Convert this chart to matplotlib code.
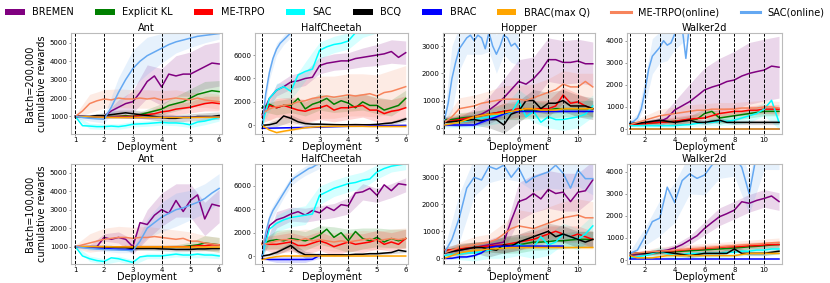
import numpy as np
import matplotlib
matplotlib.use("Agg")
import matplotlib.pyplot as plt
from matplotlib.patches import Patch
from matplotlib.lines import Line2D

methods = ["BREMEN", "Explicit KL", "ME-TRPO", "SAC", "BCQ", "BRAC",
           "BRAC(max Q)", "ME-TRPO(online)", "SAC(online)"]
colors = ["#800080", "#008000", "#ff0000", "#00ffff", "#000000", "#0000ff",
          "#ffa500", "#f7845c", "#64a8f2"]
envs = ["Ant", "HalfCheetah", "Hopper", "Walker2d"]
row_labels = ["Batch=200,000\ncumulative rewards", "Batch=100,000\ncumulative rewards"]

# ---------------- Ant, batch 200k (x = 1..6) ----------------
ant2_bremen = [1000, 1000, 990, 1010, 1000, 1300, 1500, 1700, 1800, 2300, 2900, 3200, 2600, 3300, 3200, 3300, 3300, 3500, 3700, 3900, 3850]
ant2_bremen_sd = [50, 50, 100, 400, 600, 900, 1000, 1100, 1200, 1200, 1200]
ant2_kl = [1000, 990, 980, 1000, 980, 1000, 1000, 1050, 1000, 1100, 1200, 1300, 1400, 1600, 1700, 1800, 2000, 2200, 2300, 2400, 2350]
ant2_kl_sd = [30, 30, 50, 100, 100, 200, 300, 400, 500, 600, 600]
ant2_metrpo = [1000, 990, 980, 1000, 970, 980, 1000, 1000, 1000, 1050, 1100, 1150, 1250, 1300, 1400, 1450, 1500, 1600, 1700, 1750, 1700]
ant2_metrpo_sd = [30, 30, 50, 100, 100, 200, 300, 300, 300, 400, 400]
ant2_sac = [1000, 500, 480, 450, 450, 480, 450, 500, 580, 600, 620, 650, 680, 650, 650, 620, 550, 700, 750, 850, 950]
ant2_sac_sd = [50, 150, 150, 150, 150, 150, 150, 150, 150, 200, 200]
ant2_bcq = [1000, 1000, 1000, 1050, 1050, 1100, 1150, 1200, 1150, 1100, 1050, 1000, 950, 900, 900, 950, 950, 1000, 1000, 1000, 1050]
ant2_bcq_sd = [50, 100, 150, 200, 200, 200, 200, 200, 200, 200, 200]
ant2_brac = [1000, 980, 960, 960, 950, 950, 950, 960, 960, 970, 980]
ant2_brac_sd = [20, 20, 20, 20, 20, 20]
ant2_bracq = [1000, 980, 960, 950, 950, 950, 950, 950, 950, 960, 970]
ant2_bracq_sd = [30, 30, 30, 30, 30, 30]
ant2_metrpo_on = [1000, 1300, 1700, 1850, 1950, 1900, 2000, 1950, 1950, 2000, 1950, 2000, 1900, 1950, 2000, 1950, 1900, 2000, 1900, 1850, 1800]
ant2_metrpo_on_sd = [100, 500, 500, 500, 500, 500, 500, 450, 400, 400, 400]
ant2_sac_on = [1000, 950, 900, 870, 850, 1500, 2300, 3000, 3600, 4000, 4300, 4500, 4700, 4900, 5050, 5150, 5250, 5350, 5400, 5450, 5500]
ant2_sac_on_sd = [100, 150, 200, 800, 1000, 1000, 800, 600, 500, 400, 300]

# ---------------- HalfCheetah, batch 200k ----------------
hc2_bremen = [900, 2300, 3000, 3300, 3700, 3800, 4000, 4100, 5100, 5300, 5400, 5500, 5500, 5700, 5800, 5900, 6000, 6100, 6300, 5800, 6200]
hc2_bremen_sd = [200, 500, 600, 600, 700, 700, 700, 800, 900, 1000, 1000]
hc2_kl = [1500, 1800, 1500, 1700, 1700, 2300, 1400, 1800, 2000, 2300, 1800, 2100, 1900, 1500, 2000, 1700, 1700, 1300, 1500, 1700, 2300]
hc2_kl_sd = [300, 600, 600, 600, 700, 700, 700, 700, 700, 700, 700]
hc2_metrpo = [700, 1700, 1500, 1700, 1500, 1300, 1200, 1400, 1500, 1700, 1300, 1500, 1500, 1600, 1700, 1300, 1300, 1000, 1200, 1300, 1500]
hc2_metrpo_sd = [500, 800, 900, 1000, 1000, 1000, 1000, 1000, 1000, 1000, 1000]
hc2_sac = [0, 2300, 3000, 3300, 2900, 4300, 4600, 4800, 6400, 6700, 6900, 7000, 7200, 7900, 8300, 8500, 8700, 8800, 8900, 9000, 9100]
hc2_sac_sd = [50, 600, 700, 800, 700, 700, 700, 800, 800, 800, 800]
hc2_bcq = [0, 50, 200, 800, 600, 300, 150, 100, 100, 80, 60, 50, 50, 60, 50, 50, 80, 150, 200, 350, 550]
hc2_bcq_sd = [50, 300, 300, 200, 100, 100, 100, 100, 100, 150, 200]
hc2_brac = [-250, -230, -200, -180, -150, -110, -80, -60, -40, -20, 0]
hc2_brac_sd = [50, 50, 50, 50, 50, 50]
hc2_bracq = [0, -400, -620, -500, -400, -300, -200, -150, -110, -100, -80, -80, -80, -80, -80, -100, -100, -100, -100, -100, -100]
hc2_bracq_sd = [30, 80, 80, 60, 50, 50, 50, 50, 50, 50, 50]
hc2_metrpo_on = [1000, 1400, 1600, 1700, 1800, 2000, 2100, 2300, 2400, 2500, 2400, 2500, 2600, 2500, 2600, 2700, 2500, 2800, 2900, 3100, 3300]
hc2_metrpo_on_sd = [300, 1500, 1800, 1800, 1800, 1800, 1800, 1800, 1800, 1800, 1800]
hc2_sac_on = [0, 2700, 4500, 5700, 6500, 7000, 7300, 7600, 7900]
hc2_sac_on_sd = [100, 600, 500, 400, 400]

# ---------------- Hopper, batch 200k (x = 1..11) ----------------
hop2_bremen = [300, 300, 300, 350, 400, 500, 650, 850, 1100, 1400, 1700, 1600, 1800, 2100, 2500, 2500, 2400, 2400, 2450, 2350, 2350]
hop2_bremen_sd = [100, 100, 300, 500, 700, 800, 800, 800, 800, 800, 800]
hop2_kl = [300, 300, 350, 380, 400, 450, 500, 550, 600, 600, 600, 650, 650, 650, 650, 700, 700, 700, 700, 700, 700]
hop2_kl_sd = [100, 200, 200, 200, 300, 300, 300, 300, 300, 300, 300]
hop2_metrpo = [200, 250, 300, 350, 400, 450, 500, 550, 600, 650, 700, 700, 700, 700, 700, 800, 1200, 900, 950, 800, 700]
hop2_metrpo_sd = [100, 200, 200, 200, 300, 300, 300, 300, 300, 300, 300]
hop2_sac = [100, 150, 200, 250, 300, 350, 400, 450, 500, 550, 1000, 400, 600, 200, 400, 300, 300, 350, 400, 500, 800]
hop2_sac_sd = [100, 200, 300, 300, 300, 400, 400, 400, 400, 400, 400]
hop2_bcq = [200, 220, 250, 280, 300, 250, 300, 300, 100, 500, 600, 1000, 1000, 700, 900, 900, 1000, 800, 800, 800, 700]
hop2_bcq_sd = [100, 200, 200, 300, 300, 400, 400, 400, 400, 400, 400]
hop2_brac = [100, 100, 100, 100, 100, 200, 300, 400, 500, 600, 600, 600, 600, 600, 600, 600, 600, 600, 600, 600, 600]
hop2_brac_sd = [50, 50, 50, 50, 50, 50, 50, 50, 50, 50, 50]
hop2_bracq = [100, 150, 200, 300, 400, 450, 500, 500, 550, 600, 650, 700, 700, 650, 650, 650, 700, 700, 700, 700, 700]
hop2_bracq_sd = [50, 50, 50, 50, 50, 50, 50, 50, 50, 50, 50]
hop2_metrpo_on = [200, 400, 700, 750, 800, 900, 950, 1000, 1050, 1050, 1050, 1000, 1100, 1200, 1300, 1400, 1600, 1500, 1500, 1700, 1500]
hop2_metrpo_on_sd = [100, 400, 400, 400, 500, 500, 500, 500, 500, 500, 500]
hop2_sac_on = [300, 900, 1800, 2400, 2900, 3100, 3300, 3400, 3200, 3400, 3300, 2900, 3500, 3000, 2700, 3000, 3400, 3300, 3000, 3100, 2900]
hop2_sac_on_sd = [200, 1200, 800, 600, 500, 600, 700, 700, 700, 600, 600]

# ---------------- Walker2d, batch 200k ----------------
wal2_bremen = [250, 260, 280, 300, 330, 500, 860, 1050, 1240, 1500, 1770, 1900, 2000, 2150, 2220, 2400, 2520, 2600, 2670, 2850, 2800]
wal2_bremen_sd = [50, 100, 200, 400, 800, 1000, 1200, 1300, 1400, 1400, 1400]
wal2_kl = [250, 250, 260, 280, 300, 320, 350, 380, 400, 450, 700, 800, 500, 550, 600, 650, 700, 750, 800, 800, 800]
wal2_kl_sd = [50, 100, 100, 150, 200, 200, 300, 200, 200, 200, 200]
wal2_metrpo = [200, 220, 250, 280, 300, 320, 350, 400, 450, 480, 500, 600, 700, 750, 800, 800, 850, 850, 900, 900, 900]
wal2_metrpo_sd = [50, 100, 150, 200, 200, 200, 200, 200, 200, 200, 200]
wal2_sac = [150, 150, 150, 150, 150, 150, 150, 180, 200, 250, 300, 300, 350, 350, 400, 500, 600, 700, 900, 1300, 300]
wal2_sac_sd = [50, 100, 100, 100, 100, 150, 200, 200, 300, 300, 300]
wal2_bcq = [250, 250, 300, 350, 400, 350, 300, 350, 400, 300, 300, 350, 400, 300, 300, 300, 300, 300, 300, 300, 300]
wal2_bcq_sd = [50, 100, 100, 100, 100, 100, 100, 100, 100, 100, 100]
wal2_brac = [0, 0, 0, 0, 0, 0, 0, 0, 0, 0, 0]
wal2_brac_sd = [10, 10, 10, 10, 10, 10]
wal2_bracq = [10, 10, 10, 10, 10, 10, 10, 10, 10, 10, 10]
wal2_bracq_sd = [10, 10, 10, 10, 10, 10]
wal2_metrpo_on = [200, 300, 400, 500, 600, 650, 700, 750, 800, 850, 850, 900, 900, 900, 900, 950, 950, 950, 1000, 1000, 950]
wal2_metrpo_on_sd = [100, 200, 300, 300, 300, 300, 300, 300, 300, 300, 300]
wal2_sac_on = [300, 350, 500, 900, 1700, 2700, 3300, 3500, 3700, 4000, 3800, 3900, 4300, 4500, 4600, 3200, 4800]
wal2_sac_on_sd = [100, 200, 600, 800, 700, 700, 700, 700, 700]

# ---------------- Ant, batch 100k ----------------
ant1_bremen = [1000, 1000, 1000, 1000, 1500, 1400, 1500, 1400, 1000, 2300, 2200, 2700, 3000, 2800, 3500, 2900, 3500, 3800, 2500, 3300, 3200]
ant1_bremen_sd = [50, 100, 200, 300, 400, 800, 900, 900, 900, 900, 900]
ant1_kl = [1000, 1000, 990, 1000, 990, 1000, 980, 1000, 980, 1000, 1000, 1000, 1000, 1000, 1000, 1000, 1050, 1100, 1200, 1150, 1100]
ant1_kl_sd = [30, 50, 50, 50, 50, 50, 50, 100, 200, 400, 400]
ant1_metrpo = [1000, 990, 980, 1000, 980, 990, 990, 1000, 1000, 1000, 1000, 1000, 1000, 1000, 1000, 1000, 1000, 1050, 1050, 1100, 1100]
ant1_metrpo_sd = [30, 50, 50, 50, 50, 50, 50, 50, 100, 100, 100]
ant1_sac = [1000, 500, 350, 250, 200, 400, 350, 250, 150, 450, 500, 500, 500, 550, 600, 550, 550, 600, 550, 550, 500]
ant1_sac_sd = [50, 150, 150, 150, 150, 150, 150, 150, 150, 150, 150]
ant1_bcq = [1000, 1000, 1000, 1000, 1000, 980, 950, 950, 900, 900, 900, 900, 880, 870, 850, 850, 850, 880, 880, 900, 900]
ant1_bcq_sd = [50, 100, 100, 100, 100, 100, 100, 100, 100, 100, 100]
ant1_brac = [1000, 980, 960, 930, 900, 880, 860, 850, 830]
ant1_brac_sd = [20, 20, 20, 20, 20]
ant1_bracq = [1000, 1000, 1000, 990, 990, 990, 990, 980, 980, 980, 980]
ant1_bracq_sd = [30, 30, 30, 30, 30, 30]
ant1_metrpo_on = [1000, 1100, 1200, 1300, 1400, 1450, 1500, 1500, 1450, 1500, 1500, 1550, 1500, 1450, 1400, 1450, 1300, 1300, 1200, 1150, 1100]
ant1_metrpo_on_sd = [100, 500, 600, 600, 600, 600, 500, 500, 500, 400, 400]
ant1_sac_on = [1000, 950, 900, 870, 850, 830, 820, 810, 780, 1300, 2000, 2300, 2600, 2800, 3000, 3100, 3250, 3400, 3600, 3900, 4150]
ant1_sac_on_sd = [50, 100, 100, 150, 100, 500, 800, 900, 800, 800, 800]

# ---------------- HalfCheetah, batch 100k ----------------
hc1_bremen = [0, 2600, 3100, 3300, 3600, 3800, 3500, 3900, 3700, 4200, 3900, 4400, 4300, 5400, 5500, 5800, 5200, 6100, 5600, 6200, 6100]
hc1_bremen_sd = [100, 700, 600, 600, 600, 600, 700, 700, 600, 600, 600]
hc1_kl = [1000, 1300, 1400, 1300, 1500, 1400, 1300, 1500, 1800, 2300, 1600, 2000, 1300, 2100, 1500, 1300, 1600, 1200, 1500, 1300, 1500]
hc1_kl_sd = [400, 800, 800, 800, 800, 900, 1000, 900, 800, 800, 800]
hc1_metrpo = [1100, 1000, 1000, 1100, 1200, 900, 900, 1100, 1300, 1100, 800, 1000, 1200, 1000, 1100, 1200, 1400, 1000, 1200, 1000, 1500]
hc1_metrpo_sd = [500, 800, 800, 800, 800, 800, 800, 800, 800, 800, 800]
hc1_sac = [0, 2300, 2800, 3100, 3300, 3400, 3500, 3600, 5200, 5500, 5800, 6000, 6200, 6300, 6500, 6600, 7200, 7500, 7700, 7800, 7900]
hc1_sac_sd = [50, 700, 800, 800, 800, 700, 700, 700, 600, 500, 500]
hc1_bcq = [0, 100, 300, 600, 900, 400, 100, 100, 100, 100, 100, 100, 100, 150, 150, 200, 200, 250, 300, 500, 400]
hc1_bcq_sd = [50, 200, 300, 300, 100, 100, 100, 100, 100, 100, 100]
hc1_brac = [-200, -300, -300, -300, -300, -300, -300, -280, 50]
hc1_brac_sd = [100, 250, 250, 250, 250]
hc1_bracq = [-300, -150, -50, 0, 0, 0, 0, 0, 0, 0, 0, 0, 0, 0, 0, 0, 0, 0, 0, 0, 0]
hc1_bracq_sd = [50, 50, 50, 50, 50, 50, 50, 50, 50, 50, 50]
hc1_metrpo_on = [1000, 1100, 1300, 1400, 1400, 1300, 1500, 1300, 1400, 1300, 1200, 1300, 1200, 1300, 1400, 1500, 1300, 1400, 1500, 1400, 1500]
hc1_metrpo_on_sd = [500, 700, 800, 800, 800, 800, 800, 800, 800, 800, 900]
hc1_sac_on = [0, 2000, 3200, 3900, 4400, 4900, 5400, 5900, 6400, 6700, 6900, 7100, 7300, 7500, 7600, 7800, 7900]
hc1_sac_on_sd = [100, 600, 500, 400, 400, 400, 400, 400, 400]

# ---------------- Hopper, batch 100k ----------------
hop1_bremen = [200, 250, 300, 350, 400, 450, 500, 550, 600, 1400, 2100, 2200, 2400, 2200, 2550, 2400, 2450, 2100, 2450, 2500, 2900]
hop1_bremen_sd = [100, 100, 100, 200, 300, 700, 700, 700, 700, 700, 700]
hop1_kl = [300, 320, 350, 370, 400, 420, 430, 450, 480, 500, 500, 550, 600, 600, 620, 650, 650, 680, 700, 700, 700]
hop1_kl_sd = [100, 200, 200, 200, 300, 300, 300, 300, 300, 300, 300]
hop1_metrpo = [300, 320, 350, 380, 400, 430, 450, 480, 500, 550, 600, 650, 700, 800, 900, 1000, 900, 800, 900, 800, 700]
hop1_metrpo_sd = [100, 200, 200, 200, 300, 300, 300, 300, 300, 300, 300]
hop1_sac = [100, 150, 150, 200, 200, 250, 300, 350, 400, 450, 500, 450, 400, 800, 500, 600, 900, 800, 700, 900, 1200]
hop1_sac_sd = [100, 200, 300, 300, 400, 400, 400, 400, 400, 400, 400]
hop1_bcq = [200, 250, 300, 350, 400, 400, 350, 300, 500, 450, 600, 700, 800, 900, 1000, 800, 900, 800, 700, 600, 700]
hop1_bcq_sd = [100, 200, 200, 300, 300, 300, 300, 300, 300, 300, 300]
hop1_brac = [0, 0, 50, 50, 100, 200, 400, 450, 450, 450, 450, 450, 450, 450, 450, 450, 450]
hop1_brac_sd = [50, 50, 50, 50, 50, 50, 50, 50, 50]
hop1_bracq = [0, 100, 200, 250, 300, 300, 350, 350, 380, 400, 400, 400, 400, 400, 400, 400, 400, 400, 400, 400, 400]
hop1_bracq_sd = [50, 50, 50, 50, 50, 50, 50, 50, 50, 50, 50]
hop1_metrpo_on = [200, 300, 400, 450, 500, 550, 600, 700, 900, 1100, 1200, 1150, 1100, 1200, 1300, 1400, 1500, 1550, 1600, 1500, 1500]
hop1_metrpo_on_sd = [100, 200, 300, 300, 400, 600, 600, 600, 600, 600, 600]
hop1_sac_on = [200, 700, 1500, 2600, 3000, 2900, 3400, 3300, 3450, 3000, 3350, 2800, 3000, 3100, 3200, 3450, 3150, 2600, 3270, 2950, 2950]
hop1_sac_on_sd = [200, 900, 700, 600, 500, 500, 500, 600, 600, 600, 600]

# ---------------- Walker2d, batch 100k ----------------
wal1_bremen = [200, 250, 300, 350, 400, 450, 550, 700, 900, 1100, 1430, 1700, 1960, 2100, 2260, 2640, 2570, 2700, 2790, 2900, 2650]
wal1_bremen_sd = [50, 100, 100, 150, 200, 300, 400, 400, 400, 400, 400]
wal1_kl = [300, 300, 300, 320, 340, 360, 380, 400, 420, 440, 460, 480, 500, 520, 550, 570, 600, 620, 650, 680, 700]
wal1_kl_sd = [50, 100, 100, 100, 150, 150, 150, 150, 150, 150, 150]
wal1_metrpo = [300, 310, 320, 350, 380, 400, 420, 450, 480, 500, 520, 550, 570, 600, 600, 620, 650, 650, 680, 700, 700]
wal1_metrpo_sd = [50, 100, 100, 100, 150, 150, 150, 150, 150, 150, 150]
wal1_sac = [100, 150, 200, 300, 400, 300, 200, 250, 300, 300, 300, 300, 300, 350, 350, 400, 400, 450, 450, 500, 500]
wal1_sac_sd = [50, 150, 200, 200, 200, 200, 200, 200, 200, 250, 250]
wal1_bcq = [300, 300, 300, 350, 400, 350, 300, 250, 200, 250, 300, 300, 300, 300, 500, 300, 300, 300, 300, 350, 400]
wal1_bcq_sd = [50, 100, 100, 100, 100, 100, 100, 100, 100, 100, 100]
wal1_brac = [50, 50, 50, 50, 50, 50, 50, 50, 50, 50, 50]
wal1_brac_sd = [10, 10, 10, 10, 10, 10]
wal1_bracq = [200, 100, 100, 100, 150, 200, 200, 200, 200, 200, 200, 200, 200, 200, 200, 250, 300, 300, 300, 300, 300]
wal1_bracq_sd = [50, 50, 50, 50, 50, 50, 50, 50, 50, 50, 50]
wal1_metrpo_on = [300, 320, 350, 380, 400, 420, 450, 480, 500, 520, 550, 580, 600, 630, 650, 680, 700, 720, 750, 780, 800]
wal1_metrpo_on_sd = [50, 100, 200, 200, 200, 200, 200, 200, 200, 200, 200]
wal1_sac_on = [300, 450, 1060, 1740, 1900, 3300, 2600, 3600, 3900, 3700, 3850, 4300, 4600, 4800, 4700, 4200, 3000, 4800, 5000, 5000, 5000]
wal1_sac_on_sd = [100, 400, 800, 900, 900, 900, 900, 900, 900, 900, 900]


def panel(prefix, g):
    # (values, spread) for each method, in legend order
    keys = ["bremen", "kl", "metrpo", "sac", "bcq", "brac", "bracq", "metrpo_on", "sac_on"]
    return [(g[prefix + "_" + k], g[prefix + "_" + k + "_sd"]) for k in keys]


g = globals()
panels = [
    [panel("ant2", g), panel("hc2", g), panel("hop2", g), panel("wal2", g)],
    [panel("ant1", g), panel("hc1", g), panel("hop1", g), panel("wal1", g)],
]
# where a curve stops before the last deployment: (row, col, method index) -> last x
x_ends = {(0, 1, 8): 2.0, (0, 2, 8): 6.0, (0, 3, 8): 5.0,
          (1, 0, 5): 3.0, (1, 1, 5): 3.0, (1, 1, 8): 3.0, (1, 2, 5): 9.0}

last_dep = [6, 6, 11, 11]
xlims = [(0.85, 6.1), (0.75, 6.08), (0.9, 11.15), (0.8, 11.2)]
ylims = [[(50, 5530), (-740, 7880), (-230, 3480), (-226, 4350)],
         [(65, 5470), (-685, 7885), (-211, 3493), (-180, 4350)]]
yticks = [[1000, 2000, 3000, 4000, 5000], [0, 2000, 4000, 6000],
          [0, 1000, 2000, 3000], [0, 1000, 2000, 3000, 4000]]
xticks = [[1, 2, 3, 4, 5, 6], [1, 2, 3, 4, 5, 6], [2, 4, 6, 8, 10], [2, 4, 6, 8, 10]]
vlines = [[1, 2, 3, 4, 5], [1, 2, 3, 4, 5], list(range(1, 11)), list(range(1, 11))]

fig = plt.figure(figsize=(8.3, 2.83), dpi=100)
W, H = 830.0, 283.0
col_px = [(71, 222), (255, 408), (443, 595), (627, 782)]
row_px = [(33, 134), (164, 264)]

for r in range(2):
    for c in range(4):
        x0, x1 = col_px[c]
        y0, y1 = row_px[r]
        ax = fig.add_axes([x0 / W, 1 - y1 / H, (x1 - x0) / W, (y1 - y0) / H])
        for m, (vals, sd) in enumerate(panels[r][c]):
            y = np.array(vals, dtype=float)
            s = np.array(sd, dtype=float)
            xe = x_ends.get((r, c, m), last_dep[c])
            x = np.linspace(1, xe, len(y))
            step = (len(y) - 1) // (len(s) - 1)
            xb, yb = x[::step], y[::step]
            ax.fill_between(xb, yb - s, yb + s, color=colors[m], alpha=0.16, lw=0)
            ax.plot(x, y, color=colors[m], lw=1.1)
        for d in vlines[c]:
            ax.axvline(d, color="k", ls="--", lw=0.7)
        ax.set_xlim(*xlims[c])
        ax.set_ylim(*ylims[r][c])
        ax.set_xticks(xticks[c])
        ax.set_yticks(yticks[c])
        ax.tick_params(labelsize=5, length=1.5, width=0.6, pad=0.8, color="#888888")
        for sp in ax.spines.values():
            sp.set_color("#bbbbbb")
            sp.set_linewidth(0.8)
        ax.set_title(envs[c], fontsize=7, pad=0.8)
        ax.set_xlabel("Deployment", fontsize=7, labelpad=-0.5)
        if c == 0:
            ax.set_ylabel(row_labels[r], fontsize=7, labelpad=2)

handles = [Patch(facecolor=colors[i], edgecolor="none") for i in range(7)]
handles += [Line2D([], [], color=colors[i], lw=2.2) for i in (7, 8)]
fig.legend(handles, methods, loc="upper center", bbox_to_anchor=(0.5, 1.005),
           ncol=9, frameon=False, fontsize=7, handlelength=2.0,
           handletextpad=0.8, columnspacing=2.15)

fig.savefig("out.png", dpi=100)
